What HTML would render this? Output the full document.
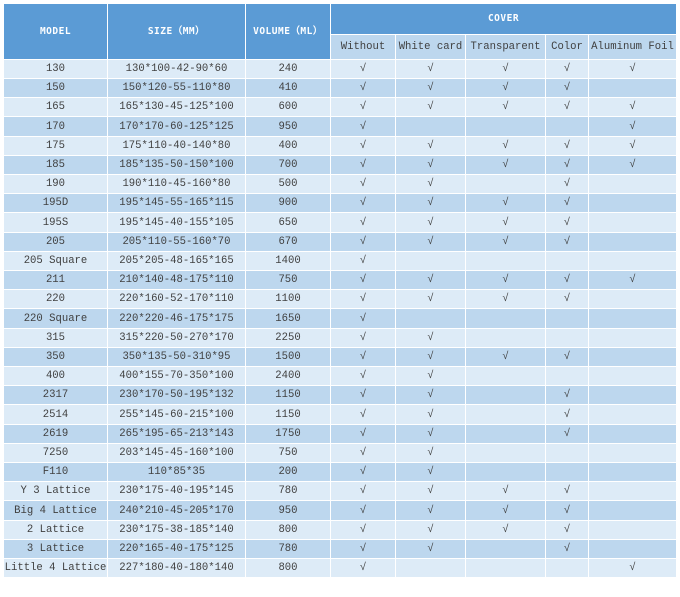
<!DOCTYPE html>
<html><head><meta charset="utf-8"><style>
body{margin:0;background:#fff;width:680px;height:583px;overflow:hidden}
.g{position:absolute;left:4px;top:4px;width:672px;display:grid;gap:1px;background:#fff;
grid-template-columns:103px 137px 84px 64px 69px 79px 42px 87px;
grid-template-rows:30px 24px 18px 18px 18px 19px 18px 18px 18px 18px 19px 18px 18px 18px 18px 19px 18px 18px 18px 18px 19px 18px 18px 18px 18px 19px 18px 18px 18px 19px;
font-family:"Liberation Mono","Noto Serif CJK SC",monospace;font-size:10.6px;color:#404040}
.g div{display:flex;align-items:center;justify-content:center;white-space:nowrap;overflow:hidden;line-height:12px}
.h{background:#5b9bd5;color:#fff;font-weight:bold;font-family:"DejaVu Sans Mono","Liberation Mono",monospace;font-size:9.5px;letter-spacing:0.5px}
.r2{grid-row:span 2}
.c5{grid-column:span 5}
.s{background:#bdd7ee}
.o{background:#ddebf7}
.e{background:#bdd7ee}
</style></head><body>
<div class="g" id="g">
<div class="h r2">MODEL</div><div class="h r2">SIZE（MM）</div><div class="h r2">VOLUME（ML）</div><div class="h c5">COVER</div>
<div class="s">Without</div><div class="s">White card</div><div class="s">Transparent</div><div class="s">Color</div><div class="s">Aluminum Foil</div>
<div class="o">130</div><div class="o">130*100-42-90*60</div><div class="o">240</div><div class="o">√</div><div class="o">√</div><div class="o">√</div><div class="o">√</div><div class="o">√</div>
<div class="e">150</div><div class="e">150*120-55-110*80</div><div class="e">410</div><div class="e">√</div><div class="e">√</div><div class="e">√</div><div class="e">√</div><div class="e"></div>
<div class="o">165</div><div class="o">165*130-45-125*100</div><div class="o">600</div><div class="o">√</div><div class="o">√</div><div class="o">√</div><div class="o">√</div><div class="o">√</div>
<div class="e">170</div><div class="e">170*170-60-125*125</div><div class="e">950</div><div class="e">√</div><div class="e"></div><div class="e"></div><div class="e"></div><div class="e">√</div>
<div class="o">175</div><div class="o">175*110-40-140*80</div><div class="o">400</div><div class="o">√</div><div class="o">√</div><div class="o">√</div><div class="o">√</div><div class="o">√</div>
<div class="e">185</div><div class="e">185*135-50-150*100</div><div class="e">700</div><div class="e">√</div><div class="e">√</div><div class="e">√</div><div class="e">√</div><div class="e">√</div>
<div class="o">190</div><div class="o">190*110-45-160*80</div><div class="o">500</div><div class="o">√</div><div class="o">√</div><div class="o"></div><div class="o">√</div><div class="o"></div>
<div class="e">195D</div><div class="e">195*145-55-165*115</div><div class="e">900</div><div class="e">√</div><div class="e">√</div><div class="e">√</div><div class="e">√</div><div class="e"></div>
<div class="o">195S</div><div class="o">195*145-40-155*105</div><div class="o">650</div><div class="o">√</div><div class="o">√</div><div class="o">√</div><div class="o">√</div><div class="o"></div>
<div class="e">205</div><div class="e">205*110-55-160*70</div><div class="e">670</div><div class="e">√</div><div class="e">√</div><div class="e">√</div><div class="e">√</div><div class="e"></div>
<div class="o">205 Square</div><div class="o">205*205-48-165*165</div><div class="o">1400</div><div class="o">√</div><div class="o"></div><div class="o"></div><div class="o"></div><div class="o"></div>
<div class="e">211</div><div class="e">210*140-48-175*110</div><div class="e">750</div><div class="e">√</div><div class="e">√</div><div class="e">√</div><div class="e">√</div><div class="e">√</div>
<div class="o">220</div><div class="o">220*160-52-170*110</div><div class="o">1100</div><div class="o">√</div><div class="o">√</div><div class="o">√</div><div class="o">√</div><div class="o"></div>
<div class="e">220 Square</div><div class="e">220*220-46-175*175</div><div class="e">1650</div><div class="e">√</div><div class="e"></div><div class="e"></div><div class="e"></div><div class="e"></div>
<div class="o">315</div><div class="o">315*220-50-270*170</div><div class="o">2250</div><div class="o">√</div><div class="o">√</div><div class="o"></div><div class="o"></div><div class="o"></div>
<div class="e">350</div><div class="e">350*135-50-310*95</div><div class="e">1500</div><div class="e">√</div><div class="e">√</div><div class="e">√</div><div class="e">√</div><div class="e"></div>
<div class="o">400</div><div class="o">400*155-70-350*100</div><div class="o">2400</div><div class="o">√</div><div class="o">√</div><div class="o"></div><div class="o"></div><div class="o"></div>
<div class="e">2317</div><div class="e">230*170-50-195*132</div><div class="e">1150</div><div class="e">√</div><div class="e">√</div><div class="e"></div><div class="e">√</div><div class="e"></div>
<div class="o">2514</div><div class="o">255*145-60-215*100</div><div class="o">1150</div><div class="o">√</div><div class="o">√</div><div class="o"></div><div class="o">√</div><div class="o"></div>
<div class="e">2619</div><div class="e">265*195-65-213*143</div><div class="e">1750</div><div class="e">√</div><div class="e">√</div><div class="e"></div><div class="e">√</div><div class="e"></div>
<div class="o">7250</div><div class="o">203*145-45-160*100</div><div class="o">750</div><div class="o">√</div><div class="o">√</div><div class="o"></div><div class="o"></div><div class="o"></div>
<div class="e">F110</div><div class="e">110*85*35</div><div class="e">200</div><div class="e">√</div><div class="e">√</div><div class="e"></div><div class="e"></div><div class="e"></div>
<div class="o">Y 3 Lattice</div><div class="o">230*175-40-195*145</div><div class="o">780</div><div class="o">√</div><div class="o">√</div><div class="o">√</div><div class="o">√</div><div class="o"></div>
<div class="e">Big 4 Lattice</div><div class="e">240*210-45-205*170</div><div class="e">950</div><div class="e">√</div><div class="e">√</div><div class="e">√</div><div class="e">√</div><div class="e"></div>
<div class="o">2 Lattice</div><div class="o">230*175-38-185*140</div><div class="o">800</div><div class="o">√</div><div class="o">√</div><div class="o">√</div><div class="o">√</div><div class="o"></div>
<div class="e">3 Lattice</div><div class="e">220*165-40-175*125</div><div class="e">780</div><div class="e">√</div><div class="e">√</div><div class="e"></div><div class="e">√</div><div class="e"></div>
<div class="o">Little 4 Lattice</div><div class="o">227*180-40-180*140</div><div class="o">800</div><div class="o">√</div><div class="o"></div><div class="o"></div><div class="o"></div><div class="o">√</div>
</div>
</body></html>
